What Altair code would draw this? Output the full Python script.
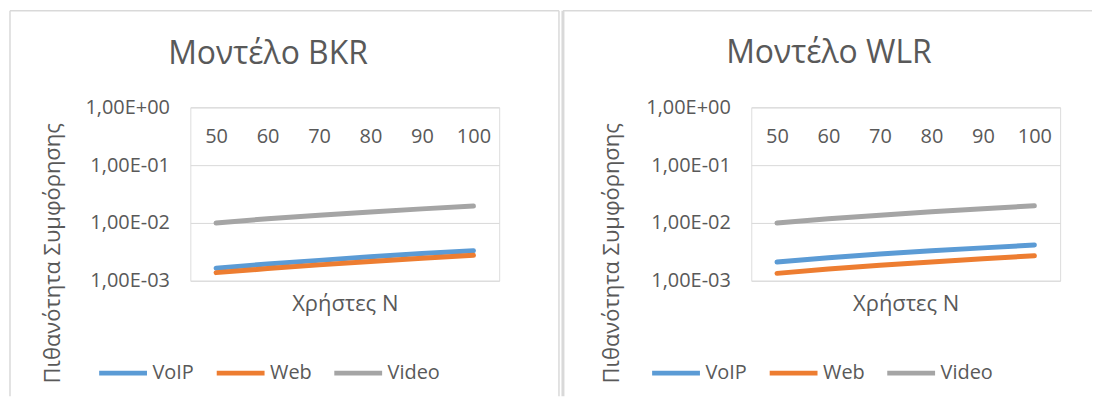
import altair as alt
import pandas as pd

# ---- data ----
users = [50, 60, 70, 80, 90, 100]
series_names = ["VoIP", "Web", "Video"]
series_colors = ["#5B9BD5", "#ED7D31", "#A5A5A5"]

bkr_voip = [0.00165, 0.00195, 0.00225, 0.0026, 0.00295, 0.0033]
bkr_web = [0.00138, 0.00162, 0.00188, 0.00215, 0.00245, 0.00275]
bkr_video = [0.0100, 0.0118, 0.0136, 0.0155, 0.0175, 0.0196]

wlr_voip = [0.0021, 0.0025, 0.0029, 0.0033, 0.0037, 0.00415]
wlr_web = [0.00134, 0.0016, 0.00185, 0.0021, 0.0024, 0.0027]
wlr_video = [0.0100, 0.0118, 0.0136, 0.0156, 0.0176, 0.0198]

y_tick_values = [0.001, 0.01, 0.1, 1]
y_tick_labels = ["1,00E-03", "1,00E-02", "1,00E-01", "1,00E+00"]

titles = {"BKR": "Μοντέλο BKR", "WLR": "Μοντέλο WLR"}
y_title = "Πιθανότητα Συμφόρησης"
x_title = "Χρήστες N"

FONT = "Open Sans"
TXT = "#595959"


def make_df(voip, web, video):
    rows = []
    for name, vals in zip(series_names, [voip, web, video]):
        for u, v in zip(users, vals):
            rows.append({"users": u, "series": name, "value": v})
    return pd.DataFrame(rows)


label_expr = ""
for v, lab in zip(y_tick_values, y_tick_labels):
    label_expr += f"abs(datum.value - {v}) < {v}*0.01 ? '{lab}' : "
label_expr += "''"

one = pd.DataFrame({"k": [0]})
W, H = 310, 174


def panel(df, title, legend_x, ytitle_x, border_left, border_right, left_w):
    lines = alt.Chart(df).mark_line(
        strokeWidth=5, strokeCap="round", strokeJoin="round"
    ).encode(
        x=alt.X(
            "users:O",
            scale=alt.Scale(padding=0.5),
            axis=alt.Axis(
                orient="top", domain=False, ticks=False, tickSize=0, grid=False,
                labelPadding=-29, labelBaseline="middle", labelAngle=0,
                labelFontSize=20, labelColor=TXT, labelFont=FONT,
                title=x_title, titleX=W / 2, titleY=197, titleBaseline="middle",
                titleAlign="center", titleFontSize=22, titleFontWeight="normal",
                titleColor=TXT, titleFont=FONT,
            ),
        ),
        y=alt.Y(
            "value:Q",
            scale=alt.Scale(type="log", domain=[0.001, 1], nice=False),
            axis=alt.Axis(
                values=y_tick_values, labelExpr=label_expr, grid=True,
                gridColor="#D9D9D9", gridWidth=1, domain=False, ticks=False,
                tickSize=0, labelPadding=21, labelFontSize=20, labelColor=TXT,
                labelFont=FONT, title=y_title, titleX=ytitle_x, titleY=146,
                titleAngle=270, titleBaseline="middle", titleAlign="center",
                titleFontSize=22, titleFontWeight="normal", titleColor=TXT,
                titleFont=FONT,
            ),
        ),
        color=alt.Color(
            "series:N",
            scale=alt.Scale(domain=series_names, range=series_colors),
            sort=series_names,
            title=None,
            legend=alt.Legend(
                orient="none", legendX=legend_x, legendY=240,
                direction="horizontal", symbolType="stroke",
                symbolStrokeWidth=5, symbolSize=2304, labelFontSize=20,
                labelFont=FONT, labelColor=TXT, labelOffset=3,
                columnPadding=12,
            ),
        ),
    )
    rules = [
        alt.Chart(one).mark_rule(color="#D9D9D9", strokeWidth=left_w).encode(
            x=alt.value(border_left), y=alt.value(-97), y2=alt.value(290)
        ),
        alt.Chart(one).mark_rule(color="#D9D9D9", strokeWidth=1.5).encode(
            x=alt.value(border_left), x2=alt.value(border_right), y=alt.value(-97)
        ),
    ]
    layer = alt.layer(lines, *rules).properties(
        width=W,
        height=H,
        title=alt.TitleParams(
            title, fontSize=32, font=FONT, color=TXT, fontWeight="normal",
            anchor="middle", frame="group", dx=-77, dy=86, offset=0,
            baseline="alphabetic",
        ),
    )
    return layer


left = panel(make_df(bkr_voip, bkr_web, bkr_video), titles["BKR"],
             legend_x=-94, ytitle_x=-138, border_left=-181, border_right=370,
             left_w=1.5)
left = alt.layer(
    left,
    alt.Chart(one).mark_rule(color="#D9D9D9", strokeWidth=1.5).encode(
        x=alt.value(370), y=alt.value(-97), y2=alt.value(290)
    ),
)
right = panel(make_df(wlr_voip, wlr_web, wlr_video), titles["WLR"],
              legend_x=-102, ytitle_x=-140, border_left=-189, border_right=342,
              left_w=3)

chart = alt.hconcat(left, right, spacing=253, bounds="flush").resolve_scale(
    color="independent", x="independent", y="independent"
).resolve_legend(color="independent").properties(padding=0).configure_view(
    stroke="transparent"
).configure(font=FONT, background="white")

chart.save("out.html", embed_options={"renderer": "svg", "actions": False})
